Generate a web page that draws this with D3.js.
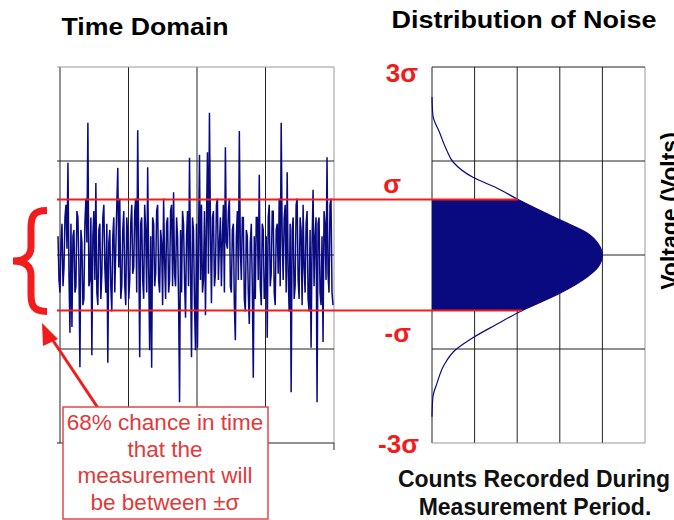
<!DOCTYPE html>
<html>
<head>
<meta charset="utf-8">
<script src="https://cdn.jsdelivr.net/npm/d3@7"></script>
<style>
  body { margin: 0; background: #fff; }
  text { font-family: "Liberation Sans", Arial, sans-serif; }
</style>
</head>
<body>
<div class="chart"></div>
<script>
// noise samples (in sigma units)
const noise = [0.3,-0.4,-0.6,0.2,0.5,-0.5,-0.2,0.6,0.8,0.1,1.47,-0.3,-1.24,0.5,-1.15,0.3,0.4,-0.6,-0.5,0.7,
  0.6,-0.2,-1.79,0.4,0.2,-0.8,-0.7,0.5,0.9,0.2,2.11,-0.5,-0.4,0.6,-1.6,0.3,0.7,-0.4,1.15,-0.6,
  -0.8,0.4,0.5,-0.7,-0.3,0.6,0.8,-0.2,-0.6,0.5,-1.72,0.2,0.4,-0.5,-0.9,0.3,0.6,-0.6,0.1,0.8,
  1.39,-0.2,0.9,-0.7,-0.5,0.4,0.7,-0.5,-0.8,0.6,0.3,-0.7,-0.4,0.5,0.8,-0.3,-0.2,0.7,0.9,-0.6,
  1.99,0.2,-1.63,0.5,0.6,-0.4,-0.7,0.8,0.4,-0.6,1.4,-0.2,-1.52,0.3,-1.8,0.6,0.5,-0.5,-0.3,0.7,
  0.8,-0.4,-0.6,0.4,0.2,-0.8,0.9,-0.1,-0.7,0.5,0.6,-0.6,-0.4,0.7,0.8,-0.5,1.0,-0.3,-0.5,0.6,
  0.3,-0.7,-2.35,0.4,-0.6,0.7,0.5,-0.4,-1.0,0.3,0.7,-0.5,1.55,-0.2,-1.63,0.6,0.4,-0.8,-1.52,0.5,
  -1.48,0.2,1.6,-0.4,0.8,-0.6,-0.4,0.7,-0.96,0.5,1.64,-0.3,2.27,0.4,-0.77,0.6,0.7,-0.5,-0.3,0.8,
  0.9,-0.4,0.2,0.6,-0.5,0.3,0.8,-0.6,1.72,0.2,0.1,0.7,0.9,-0.5,-0.6,0.4,0.5,-0.8,-1.36,0.3,
  0.7,-0.4,1.98,0.1,-0.4,0.6,0.6,-0.7,-0.9,0.4,0.3,-0.6,-1.1,0.2,0.5,-0.5,-1.96,0.3,-0.7,0.6,
  0.6,-0.4,1.28,-0.5,-0.8,0.5,0.4,-0.7,-0.6,0.3,-1.32,0.6,0.8,-0.5,-0.3,0.7,0.7,-0.6,-0.8,0.4,
  0.5,-0.3,0.9,-0.5,2.11,0.3,-0.4,0.6,0.8,-0.6,1.32,-0.3,-0.9,0.5,-2.19,0.4,0.6,-0.7,-0.5,0.8,
  0.9,-0.4,-0.7,0.6,0.4,-0.8,0.8,-0.2,-0.6,0.5,0.7,-0.7,-0.9,0.4,-1.48,0.2,1.04,-0.5,0.3,0.6,
  -2.35,0.5,0.6,-0.6,-0.8,0.3,-1.39,0.7,0.5,-0.4,1.56,-0.3,-0.6,0.8,0.9,-0.6,-0.8];

// distribution curve: voltage level (sigma units) and counts
const distLevels = [2.52,2.23,1.95,1.68,1.48,1.24,1.07,0.885,0.56,0.35,0.16,0,-0.19,-0.35,-0.61,-0.885,-1.12,-1.32,-1.52,-1.76,-2.04,-2.27,-2.58];
const distCounts = [0,1,9,17,25,48,76,101,150,182,196,200,195,182,150,106,74,48,27,14,6,1,0];

const sigma = 0.885;
const voltTicks = [3, 1.5, 0, -1.5, -3];
const timeTicks = [0, 1, 2, 3, 4];
const countTicks = [0, 50, 100, 150, 200, 250];
const sigmaLabels = ['3σ', 'σ', '-σ', '-3σ'];
const sigmaLabelLevels = [3, sigma, -sigma, -3];
const boxLines = ['68% chance in time', 'that the', 'measurement will', 'be between ±σ'];

const width = 674, height = 520;
const red = '#f21c1c';
const navy = '#0a0a80';

const svg = d3.select('.chart')
    .append('svg')
    .attr('width', width)
    .attr('height', height);

const yV = d3.scaleLinear().domain([-3, 3]).range([443, 67]);
const xTime = d3.scaleLinear().domain([0, 4]).range([60, 334]);
const xSample = d3.scaleLinear().domain([0, noise.length - 1]).range([58, 333]);
const xCount = d3.scaleLinear().domain([0, 250]).range([432, 645]);

// titles
svg.append('text')
    .attr('x', 145).attr('y', 35)
    .attr('text-anchor', 'middle')
    .attr('font-size', 24).attr('font-weight', 'bold')
    .attr('textLength', 167).attr('lengthAdjust', 'spacingAndGlyphs')
    .text('Time Domain');

svg.append('text')
    .attr('x', 524).attr('y', 28)
    .attr('text-anchor', 'middle')
    .attr('font-size', 23).attr('font-weight', 'bold')
    .attr('textLength', 265).attr('lengthAdjust', 'spacingAndGlyphs')
    .text('Distribution of Noise');

// ---- time domain grid
const left = svg.append('g');
left.selectAll('.vgrid')
    .data(timeTicks)
    .enter()
    .append('line')
    .attr('x1', d => xTime(d)).attr('x2', d => xTime(d))
    .attr('y1', yV(3)).attr('y2', yV(-3))
    .attr('stroke', d => d === 4 ? '#999' : '#222')
    .attr('stroke-width', 1);
left.selectAll('.hgrid')
    .data(voltTicks)
    .enter()
    .append('line')
    .attr('x1', 57).attr('x2', xTime(4))
    .attr('y1', d => yV(d)).attr('y2', d => yV(d))
    .attr('stroke', d => d === 3 ? '#999' : '#222')
    .attr('stroke-width', 1);
left.append('line')
    .attr('x1', xTime(4)).attr('x2', xTime(4))
    .attr('y1', yV(-3)).attr('y2', yV(-3) + 7)
    .attr('stroke', '#222');

// noise trace
left.append('path')
    .datum(noise)
    .attr('d', d3.line().x((d, i) => xSample(i)).y(d => yV(d)))
    .attr('fill', 'none')
    .attr('stroke', navy)
    .attr('stroke-width', 1.5);

// ---- distribution grid
const right = svg.append('g');
right.selectAll('.vgrid')
    .data(countTicks)
    .enter()
    .append('line')
    .attr('x1', d => xCount(d)).attr('x2', d => xCount(d))
    .attr('y1', yV(3)).attr('y2', yV(-3))
    .attr('stroke', d => d === 250 ? '#999' : '#222');
right.selectAll('.hgrid')
    .data(voltTicks)
    .enter()
    .append('line')
    .attr('x1', xCount(0)).attr('x2', xCount(250))
    .attr('y1', d => yV(d)).attr('y2', d => yV(d))
    .attr('stroke', d => d === -3 ? '#999' : '#222');

const dist = distLevels.map((v, i) => ({v: v, c: distCounts[i]}));

right.append('path')
    .datum(dist.filter(d => d.v <= sigma && d.v >= -sigma))
    .attr('d', d3.area()
        .y(d => yV(d.v))
        .x0(xCount(0))
        .x1(d => xCount(d.c))
        .curve(d3.curveMonotoneY))
    .attr('fill', navy);

right.append('path')
    .datum(dist)
    .attr('d', d3.line()
        .y(d => yV(d.v))
        .x(d => xCount(d.c))
        .curve(d3.curveMonotoneY))
    .attr('fill', 'none')
    .attr('stroke', navy)
    .attr('stroke-width', 1.2);

// sigma lines
const sigmaCounts = [101, 106];
svg.selectAll('.sigline')
    .data([sigma, -sigma])
    .enter()
    .append('line')
    .attr('x1', 57)
    .attr('x2', (d, i) => xCount(sigmaCounts[i]))
    .attr('y1', d => yV(d)).attr('y2', d => yV(d))
    .attr('stroke', red)
    .attr('stroke-width', 2);

// sigma labels
const labelDx = [418, 401, 411, 419];
const labelDy = [15, -7, 32, 10];
svg.selectAll('.siglabel')
    .data(sigmaLabels)
    .enter()
    .append('text')
    .attr('x', (d, i) => labelDx[i])
    .attr('y', (d, i) => yV(sigmaLabelLevels[i]) + labelDy[i])
    .attr('text-anchor', 'end')
    .attr('font-size', 26)
    .attr('font-weight', 'bold')
    .attr('fill', red)
    .text(d => d);

// axis titles (the y title runs off the right edge, as in the original)
svg.append('text')
    .attr('transform', 'translate(678,211) rotate(-90)')
    .attr('text-anchor', 'middle')
    .attr('font-size', 23).attr('font-weight', 'bold')
    .text('Voltage (Volts)');

svg.append('text')
    .attr('x', 534).attr('y', 487)
    .attr('text-anchor', 'middle')
    .attr('font-size', 23).attr('font-weight', 'bold')
    .attr('fill', '#111')
    .text('Counts Recorded During');
svg.append('text')
    .attr('x', 535).attr('y', 515)
    .attr('text-anchor', 'middle')
    .attr('font-size', 23).attr('font-weight', 'bold')
    .attr('fill', '#111')
    .text('Measurement Period.');

// brace
const bt = yV(sigma) + 11, bb = yV(-sigma) + 1, bm = (bt + bb) / 2;
svg.append('path')
    .attr('d', `M47,${bt} C33,${bt} 31,${bt+6} 31,${bt+18} L31,${bm-14} C31,${bm-5} 25,${bm} 13,${bm}
                C25,${bm} 31,${bm+5} 31,${bm+14} L31,${bb-18} C31,${bb-6} 33,${bb} 47,${bb}`)
    .attr('fill', 'none')
    .attr('stroke', red)
    .attr('stroke-width', 7);

// arrow
svg.append('line')
    .attr('x1', 98).attr('y1', 408)
    .attr('x2', 50).attr('y2', 336)
    .attr('stroke', red)
    .attr('stroke-width', 3);
svg.append('path')
    .attr('d', 'M42,323 L58,339 L43,346 Z')
    .attr('fill', red);

// note box
svg.append('rect')
    .attr('x', 63).attr('y', 407)
    .attr('width', 205).attr('height', 112)
    .attr('fill', '#fff')
    .attr('stroke', '#e04848')
    .attr('stroke-width', 1.5);
svg.selectAll('.boxline')
    .data(boxLines)
    .enter()
    .append('text')
    .attr('x', 165)
    .attr('y', (d, i) => 430 + i * 26.6)
    .attr('text-anchor', 'middle')
    .attr('font-size', 22.5)
    .attr('fill', '#e03a3a')
    .text(d => d);
</script>
</body>
</html>
